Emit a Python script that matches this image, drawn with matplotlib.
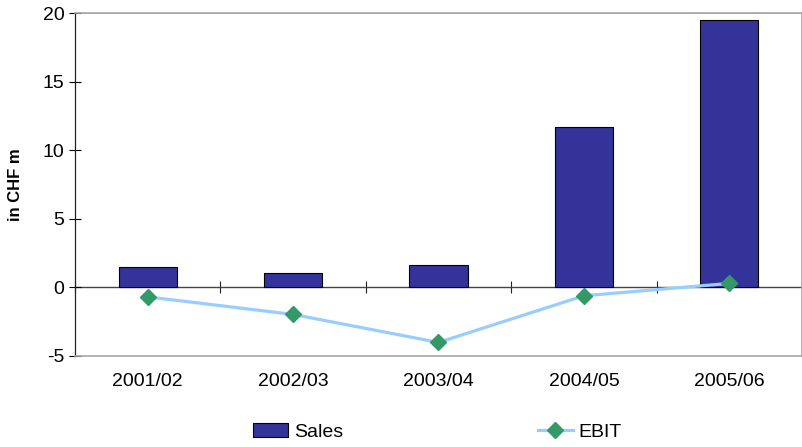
import numpy as np
import matplotlib
matplotlib.use('Agg')
import matplotlib.pyplot as plt
from matplotlib.lines import Line2D
from matplotlib.patches import Patch

plt.rcParams['font.family'] = ['Liberation Sans', 'DejaVu Sans']
plt.rcParams['axes.unicode_minus'] = False

years = ['2001/02', '2002/03', '2003/04', '2004/05', '2005/06']
sales = [1.46, 1.02, 1.6, 11.72, 19.46]
ebit = [-0.69, -1.97, -4.01, -0.61, 0.29]

fig = plt.figure(figsize=(8.03, 4.47), dpi=100)
ax = fig.add_axes([75/803, 1-356/447, 727/803, 343/447])

x = np.arange(len(years))
ax.bar(x, sales, width=0.4, color='#333399', edgecolor='black', linewidth=0.8, zorder=2)
ax.plot(x, ebit, color='#99CCFF', lw=2.3, marker='D', markersize=8,
        markerfacecolor='#339966', markeredgecolor='#339966', zorder=3)

ax.set_xlim(-0.5, 4.5)
ax.set_ylim(-5, 20)
ax.set_yticks([-5, 0, 5, 10, 15, 20])
ax.tick_params(axis='y', direction='inout', length=9, width=0.8, labelsize=14, pad=3)
ax.set_xticks(x)
ax.set_xticklabels(years)
ax.tick_params(axis='x', length=0, labelsize=14, pad=12)
ax.axhline(20, color='#A6A6A6', lw=1.2, zorder=1)

for side in ['top', 'right', 'bottom']:
    ax.spines[side].set_color('#A6A6A6')
    ax.spines[side].set_linewidth(1.2)
ax.spines['left'].set_color('#222222')
ax.spines['left'].set_linewidth(0.9)

# zero axis with category separators
zero_ax = ax.secondary_xaxis(0.2)
zero_ax.set_xticks(np.arange(-0.5, 5, 1))
zero_ax.set_xticklabels([])
zero_ax.tick_params(direction='inout', length=9, width=0.8, color='#222222')
zero_ax.spines['bottom'].set_color('#444444')
zero_ax.spines['bottom'].set_linewidth(1.0)

ax.set_ylabel('in CHF m', fontsize=12, fontweight='bold')
ax.yaxis.set_label_coords(-0.0715, 0.5)

handles = [Patch(facecolor='#333399', edgecolor='black', linewidth=0.8),
           Line2D([], [], color='#99CCFF', lw=2.3, marker='D', markersize=8,
                  markerfacecolor='#339966', markeredgecolor='#339966')]
fig.legend(handles, ['Sales', 'EBIT'], loc='center', bbox_to_anchor=(0.545, 0.034),
           ncol=2, frameon=False, fontsize=14, handlelength=1.8, handletextpad=0.3,
           columnspacing=10)

fig.savefig('out.png', dpi=100)
